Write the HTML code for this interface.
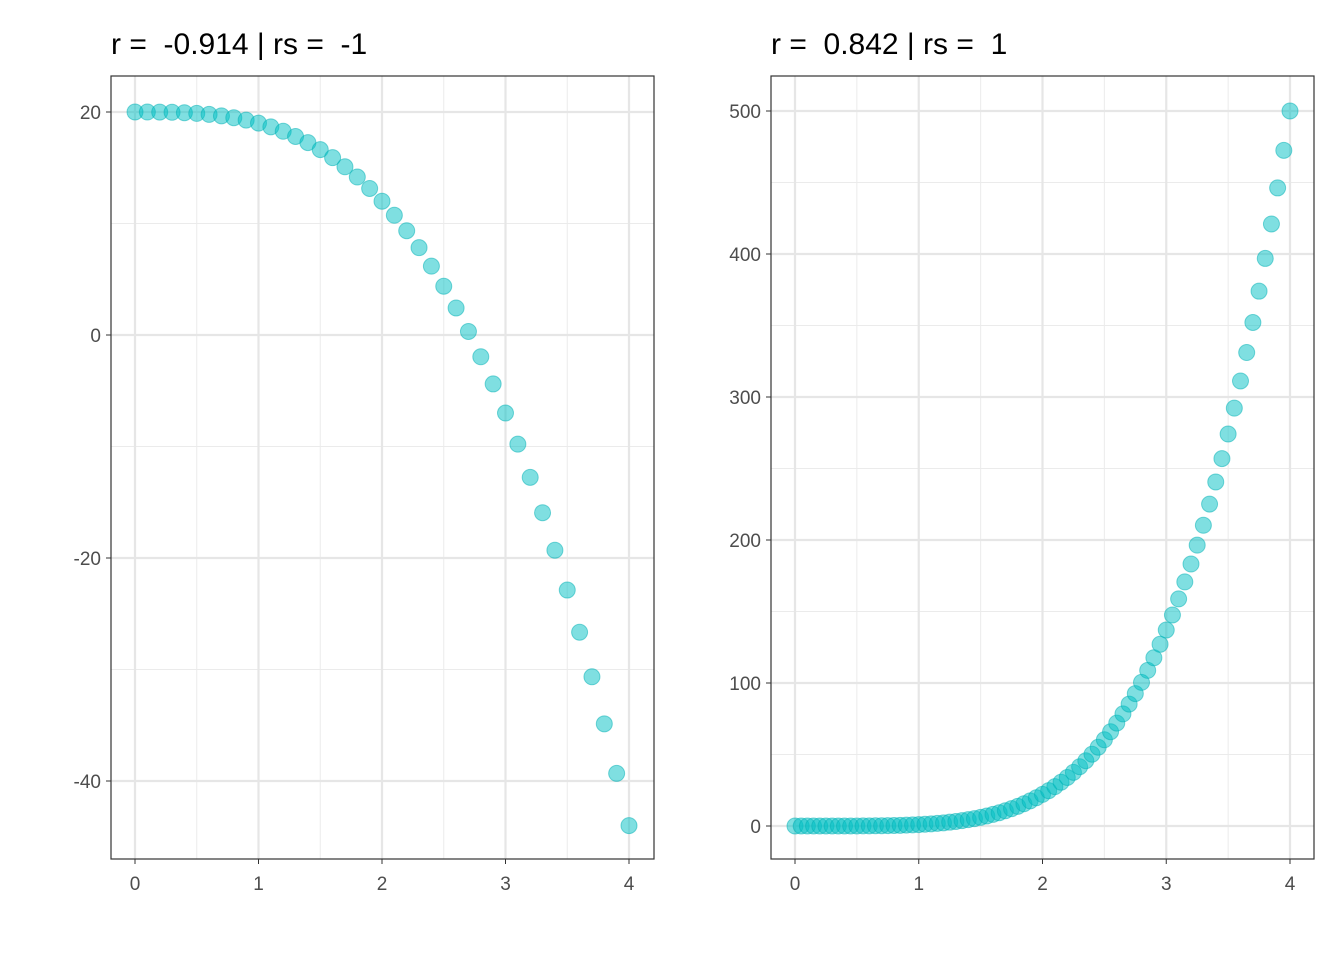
<!DOCTYPE html>
<html><head><meta charset="utf-8"><style>
body{margin:0;background:#fff;}
svg{display:block;font-family:"Liberation Sans",Arial,sans-serif;}
.pre{white-space:pre;}
</style></head><body>
<svg id="c" width="1344" height="960"></svg>
<script>
const leftX=[0,0.1,0.2,0.3,0.4,0.5,0.6,0.7,0.8,0.9,1,1.1,1.2,1.3,1.4,1.5,1.6,1.7,1.8,1.9,2,2.1,2.2,2.3,2.4,2.5,2.6,2.7,2.8,2.9,3,3.1,3.2,3.3,3.4,3.5,3.6,3.7,3.8,3.9,4];
const leftY=[20,19.999,19.992,19.973,19.936,19.875,19.784,19.657,19.488,19.271,19,18.669,18.272,17.803,17.256,16.625,15.904,15.087,14.168,13.141,12,10.739,9.352,7.833,6.176,4.375,2.424,0.317,-1.952,-4.389,-7,-9.791,-12.768,-15.937,-19.304,-22.875,-26.656,-30.653,-34.872,-39.319,-44];
const rightX=[0,0.05,0.1,0.15,0.2,0.25,0.3,0.35,0.4,0.45,0.5,0.55,0.6,0.65,0.7,0.75,0.8,0.85,0.9,0.95,1,1.05,1.1,1.15,1.2,1.25,1.3,1.35,1.4,1.45,1.5,1.55,1.6,1.65,1.7,1.75,1.8,1.85,1.9,1.95,2,2.05,2.1,2.15,2.2,2.25,2.3,2.35,2.4,2.45,2.5,2.55,2.6,2.65,2.7,2.75,2.8,2.85,2.9,2.95,3,3.05,3.1,3.15,3.2,3.25,3.3,3.35,3.4,3.45,3.5,3.55,3.6,3.65,3.7,3.75,3.8,3.85,3.9,3.95,4];
const rightY=[0,0,0,0,0,0,0,0,0,0.03,0.04,0.07,0.1,0.14,0.2,0.27,0.36,0.47,0.61,0.78,0.98,1.22,1.5,1.83,2.22,2.67,3.18,3.77,4.44,5.2,6.05,7.02,8.1,9.3,10.64,12.12,13.76,15.56,17.54,19.72,22.1,24.7,27.52,30.6,33.94,37.54,41.45,45.66,50.2,55.07,60.3,65.94,71.96,78.4,85.27,92.61,100.43,108.8,117.63,127.06,137.02,147.57,158.8,170.7,183.2,196.4,210.3,225.1,240.6,256.9,274.1,292.2,311.2,331.1,352.1,374,396.9,421,446.2,472.5,500];
const leftYTicks=[20,0,-20,-40], leftYMinor=[10,-10,-30];
const rightYTicks=[0,100,200,300,400,500], rightYMinor=[50,150,250,350,450];
const xTicks=[0,1,2,3,4], xMinor=[0.5,1.5,2.5,3.5];
const NS="http://www.w3.org/2000/svg";
const svg=document.getElementById('c');
function mk(t,a,p){const e=document.createElementNS(NS,t);for(const k in a)e.setAttribute(k,a[k]);(p||svg).appendChild(e);return e;}
function panel(name,L,R,T,B,xs,ys,yt,ym,x0,x1,y0,y1,title){
  const g=mk('g',{});
  
  
  const sx=v=>x0+(v-0)*(x1-x0)/4;
  const sy=v=>y0+(v-yt[0])*(y1-y0)/(yt[yt.length-1]-yt[0]);
  ym.forEach(v=>{const l=mk('line',{x1:L,x2:R,y1:sy(v),y2:sy(v),stroke:'#ebebeb','stroke-width':1},g);});
  xMinor.forEach(v=>{const l=mk('line',{x1:sx(v),x2:sx(v),y1:T,y2:B,stroke:'#ebebeb','stroke-width':1},g);});
  yt.forEach(v=>{const l=mk('line',{x1:L,x2:R,y1:sy(v),y2:sy(v),stroke:'#e6e6e6','stroke-width':2.2},g);
    mk('line',{x1:L-5,x2:L,y1:sy(v),y2:sy(v),stroke:'#333','stroke-width':1},g);
    const t=mk('text',{x:L-10,y:sy(v)+7,'text-anchor':'end','font-size':19,fill:'#4d4d4d'},g);t.textContent=v;});
  xTicks.forEach(v=>{const l=mk('line',{x1:sx(v),x2:sx(v),y1:T,y2:B,stroke:'#e6e6e6','stroke-width':2.2},g);
    mk('line',{x1:sx(v),x2:sx(v),y1:B,y2:B+5,stroke:'#333','stroke-width':1},g);
    const t=mk('text',{x:sx(v),y:B+31,'text-anchor':'middle','font-size':19,fill:'#4d4d4d'},g);t.textContent=v;});
  xs.forEach((x,i)=>{const c=mk('circle',{cx:sx(x),cy:sy(ys[i]),r:8,fill:'rgba(0,191,196,0.5)',stroke:'rgba(0,175,180,0.5)','stroke-width':1},g);
    
    });
  const b=mk('rect',{x:L,y:T,width:R-L,height:B-T,fill:'none',stroke:'#333','stroke-width':1.2},g);
  const tt=mk('text',{x:L,y:54,'font-size':30,fill:'#000','class':'pre','xml:space':'preserve'},g);tt.textContent=title;
}
panel('left',111,654,76,859,leftX,leftY,leftYTicks,leftYMinor,135,629,112,781,'r =  -0.914 | rs =  -1');
panel('right',771,1314,76,859,rightX,rightY,rightYTicks,rightYMinor,795,1290,826,111,'r =  0.842 | rs =  1');
</script>
</body></html>
